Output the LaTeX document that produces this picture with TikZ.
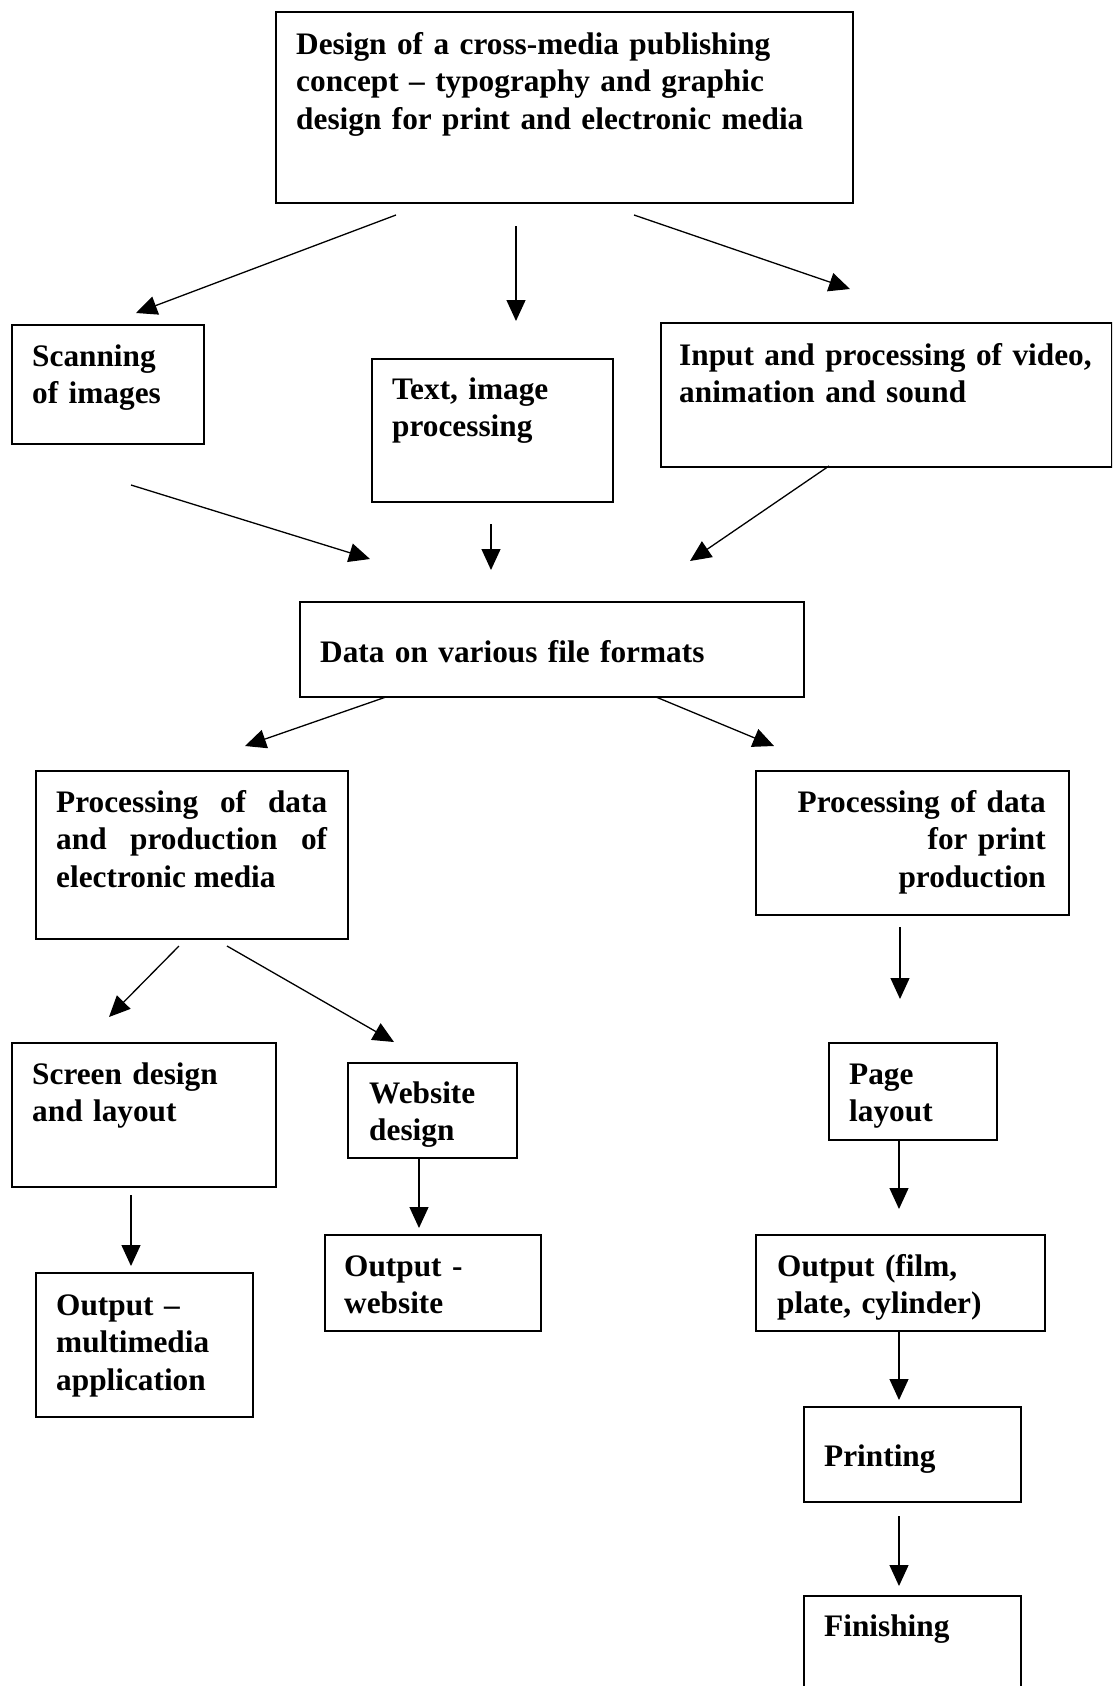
\documentclass[tikz,border=0pt]{standalone}
\usepackage{fontspec}
\setmainfont{Liberation Serif}
\usetikzlibrary{arrows.meta}
\begin{document}
\begin{tikzpicture}[x=1pt,y=-1pt,
  box/.style={draw, line width=1.8pt, inner sep=0pt, anchor=north west},
  lbl/.style={anchor=north west, inner sep=0pt, align=left, font=\fontsize{31.3}{37.6}\selectfont\bfseries},
  arr/.style={line width=1.3pt, -{Triangle[length=21pt,width=19pt]}}]
\useasboundingbox (0,0) rectangle (1112,1686);
\clip (0,0) rectangle (1112,1686);
\fill[white] (0,0) rectangle (1112,1686);
% boxes
\node[box, minimum width=577pt, minimum height=191pt] (top) at (275,11) {};
\node[box, minimum width=192pt, minimum height=119pt] (scan) at (11,324) {};
\node[box, minimum width=241pt, minimum height=143pt] (textimg) at (371,358) {};
\node[box, minimum width=451pt, minimum height=144pt] (input) at (660,322) {};
\node[box, minimum width=504pt, minimum height=95pt] (data) at (299,601) {};
\node[box, minimum width=312pt, minimum height=168pt] (procE) at (35,770) {};
\node[box, minimum width=313pt, minimum height=144pt] (procP) at (755,770) {};
\node[box, minimum width=264pt, minimum height=144pt] (screen) at (11,1042) {};
\node[box, minimum width=169pt, minimum height=95pt] (website) at (347,1062) {};
\node[box, minimum width=168pt, minimum height=97pt] (page) at (828,1042) {};
\node[box, minimum width=217pt, minimum height=144pt] (outMM) at (35,1272) {};
\node[box, minimum width=216pt, minimum height=96pt] (outWeb) at (324,1234) {};
\node[box, minimum width=289pt, minimum height=96pt] (outFilm) at (755,1234) {};
\node[box, minimum width=217pt, minimum height=95pt] (printing) at (803,1406) {};
\node[box, minimum width=217pt, minimum height=140pt] (finishing) at (803,1595) {};
% texts
\node[lbl, text width=560pt] (topT) at (296,27.7) {\strut Design of a cross-media publishing\\concept -- typography and graphic\\design for print and electronic media};
\node[lbl, text width=170pt] (scanT) at (32,339.7) {\strut Scanning\\of images};
\node[lbl, text width=220pt] (textimgT) at (392,372.7) {\strut Text, image\\processing};
\node[lbl, text width=430pt] (inputT) at (679,338.7) {\strut Input and processing of video,\\animation and sound};
\node[lbl, text width=480pt] (dataT) at (320,635.7) {\strut Data on various file formats};
\node[lbl, text width=271pt, align=justify] (procET) at (56,785.7) {\strut Processing of data\linebreak and production of\linebreak electronic media};
\node[lbl, anchor=north east, text width=280pt, align=right] (procPT) at (1046,785.7) {\strut Processing of data\\for print\\production};
\node[lbl, text width=240pt] (screenT) at (32,1057.7) {\strut Screen design\\and layout};
\node[lbl, text width=150pt] (websiteT) at (369,1076.7) {\strut Website\\design};
\node[lbl, text width=150pt] (pageT) at (849,1057.7) {\strut Page\\layout};
\node[lbl, text width=200pt] (outMMT) at (56,1288.7) {\strut Output --\\multimedia\\application};
\node[lbl, text width=200pt] (outWebT) at (344,1249.7) {\strut Output -\\website};
\node[lbl, text width=270pt] (outFilmT) at (777,1249.7) {\strut Output (film,\\plate, cylinder)};
\node[lbl, text width=190pt] (printingT) at (824,1439.7) {\strut Printing};
\node[lbl, text width=190pt] (finishingT) at (824,1609.7) {\strut Finishing};
% connector end points
\coordinate (a1s) at (396,215);  \coordinate (a1e) at (136,313);
\coordinate (a2s) at (516,226);  \coordinate (a2e) at (516,321);
\coordinate (a3s) at (634,215);  \coordinate (a3e) at (850,289);
\coordinate (a4s) at (131,485);  \coordinate (a4e) at (370,559);
\coordinate (a5s) at (491,524);  \coordinate (a5e) at (491,570);
\coordinate (a6s) at (829,466);  \coordinate (a6e) at (690,561);
\coordinate (a7s) at (386,697);  \coordinate (a7e) at (245,746);
\coordinate (a8s) at (656,697);  \coordinate (a8e) at (774,746);
\coordinate (a9s) at (179,946);  \coordinate (a9e) at (109,1017);
\coordinate (a10s) at (227,946); \coordinate (a10e) at (394,1042);
\coordinate (a11s) at (900,927); \coordinate (a11e) at (900,999);
\coordinate (a12s) at (131,1195); \coordinate (a12e) at (131,1266);
\coordinate (a13s) at (419,1157); \coordinate (a13e) at (419,1228);
\coordinate (a14s) at (899,1139); \coordinate (a14e) at (899,1209);
\coordinate (a15s) at (899,1330); \coordinate (a15e) at (899,1400);
\coordinate (a16s) at (899,1516); \coordinate (a16e) at (899,1586);
% connectors
\draw[arr] (a1s) -- (a1e);
\draw[arr] (a2s) -- (a2e);
\draw[arr] (a3s) -- (a3e);
\draw[arr] (a4s) -- (a4e);
\draw[arr] (a5s) -- (a5e);
\draw[arr] (a6s) -- (a6e);
\draw[arr] (a7s) -- (a7e);
\draw[arr] (a8s) -- (a8e);
\draw[arr] (a9s) -- (a9e);
\draw[arr] (a10s) -- (a10e);
\draw[arr] (a11s) -- (a11e);
\draw[arr] (a12s) -- (a12e);
\draw[arr] (a13s) -- (a13e);
\draw[arr] (a14s) -- (a14e);
\draw[arr] (a15s) -- (a15e);
\draw[arr] (a16s) -- (a16e);
\end{tikzpicture}
\end{document}
